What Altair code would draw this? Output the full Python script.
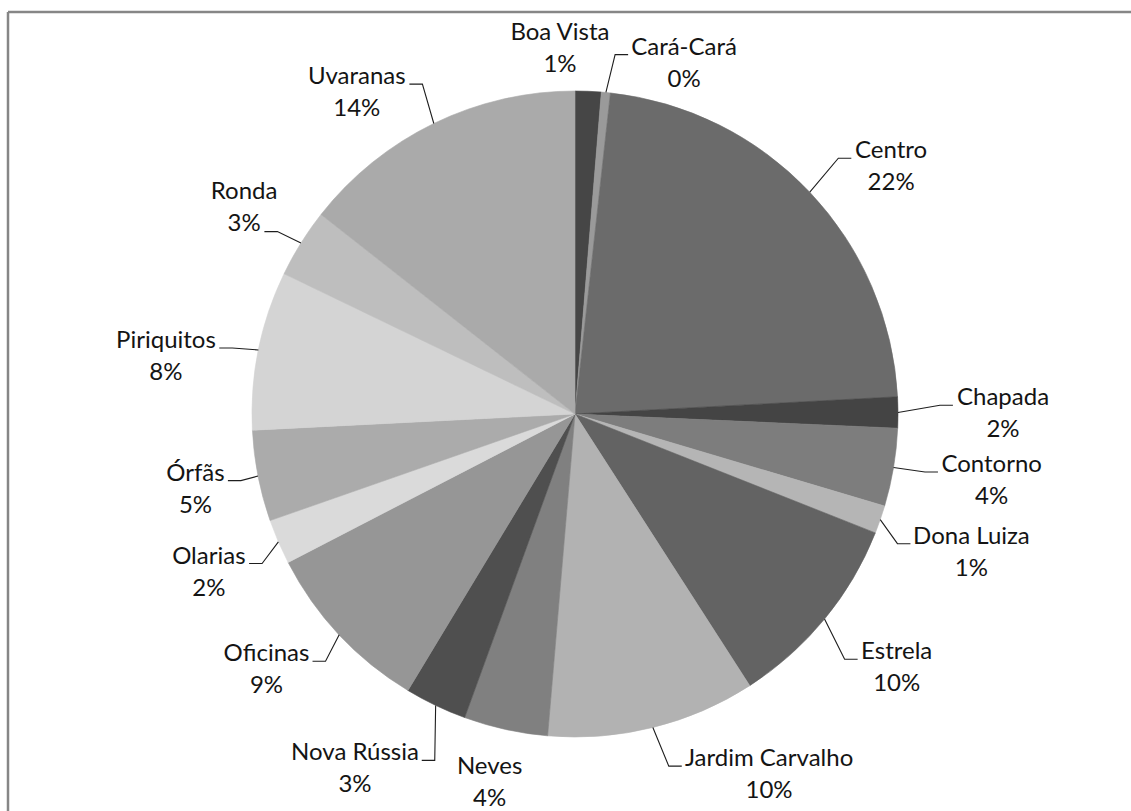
import math
import altair as alt
import pandas as pd

# ---------------- data ----------------
bairros = ["Boa Vista", "Cará-Cará", "Centro", "Chapada", "Contorno", "Dona Luiza",
           "Estrela", "Jardim Carvalho", "Neves", "Nova Rússia", "Oficinas", "Olarias",
           "Órfãs", "Piriquitos", "Ronda", "Uvaranas"]
valores = [1.3, 0.45, 22.4, 1.55, 3.9, 1.4, 9.9, 10.45, 4.2, 3.1, 8.75, 2.25,
           4.55, 7.95, 3.45, 14.4]
cores = ["#464646", "#9a9a9a", "#6b6b6b", "#444444", "#7d7d7d", "#b5b5b5",
         "#636363", "#b2b2b2", "#808080", "#4f4f4f", "#969696", "#dadada",
         "#ababab", "#d4d4d4", "#bebebe", "#aaaaaa"]

# ---------------- label layout (Excel "best fit" placement) ----------------
label_shift = [-4.7, 11.8, 5.4, 0.3, -0.4, 0.2, -1.1, -14.3, 0.6, 6.2, 3.4, -0.1,
               -0.2, -3.5, 0.0, -8.3]          # degrees, relative to slice middle
label_radius = [365, 367, 401, 428, 422, 420, 410, 410, 379, 418, 401, 399,
                387, 413, 390, 388]
leader = [None, "name", "name", "name", "name", "name", "name", "name", None,
          "name", "name", "name", "name", "name", "pct", "name"]

R = 323
FS = 24
LINE = 16
FONT = "Lato"

cw = {"a": .50, "b": .57, "c": .45, "d": .57, "e": .52, "f": .33, "h": .56, "i": .24,
      "l": .24, "m": .85, "n": .56, "o": .56, "p": .57, "q": .57, "r": .36, "s": .42,
      "t": .34, "u": .56, "v": .50, "z": .45, "ã": .50, "á": .50, "ú": .56,
      "B": .62, "C": .64, "V": .66, "J": .37, "N": .74, "O": .76, "P": .58, "R": .60,
      "U": .71, "D": .72, "L": .47, "E": .54, "Ó": .76, " ": .19, "-": .33, "%": .78}


def tw(s):
    return sum(cw.get(c, .58) for c in s) * FS


total = sum(valores)
rows, lines = [], []
cum = 0.0
for i, (b, v) in enumerate(zip(bairros, valores)):
    a0 = cum / total * 360
    cum += v
    a1 = cum / total * 360
    mid = math.radians((a0 + a1) / 2)
    la = math.radians((a0 + a1) / 2 + label_shift[i])
    lx = label_radius[i] * math.sin(la)
    ly = -label_radius[i] * math.cos(la)
    pct = f"{int(v / total * 100 + 0.5)}%"
    rows.append({"bairro": b, "valor": v, "idx": i, "cx": 0, "cy": 0,
                 "lx": lx, "ny": ly - LINE, "py": ly + LINE, "pct": pct})
    if leader[i]:
        ex, ey = R * math.sin(mid), -R * math.cos(mid)
        txt = b if leader[i] == "name" else pct
        ay = (ly - LINE + 7) if leader[i] == "name" else (ly + LINE + 8)
        if lx > ex:
            axp = lx - tw(txt) / 2 - 4
            elx = axp - 13
        else:
            axp = lx + tw(txt) / 2 + 4
            elx = axp + 13
        for k, (px, py) in enumerate([(ex, ey), (elx, ay), (axp, ay)]):
            lines.append({"bairro": b, "k": k, "x": px, "y": py})

df = pd.DataFrame(rows)
dl = pd.DataFrame(lines)

xs = alt.Scale(domain=[-575, 556], nice=False, zero=False)
ys = alt.Scale(domain=[-414, 397], reverse=True, nice=False, zero=False)

frame = pd.DataFrame({"k": [0]})
top = alt.Chart(frame).mark_rule(color="#868686", strokeWidth=2.5).encode(
    x=alt.value(8), x2=alt.value(1131), y=alt.value(12))
left = alt.Chart(frame).mark_rule(color="#868686", strokeWidth=2.5).encode(
    x=alt.value(8), y=alt.value(12), y2=alt.value(811))

pie = alt.Chart(df).mark_arc(radius=R, strokeWidth=0.6).encode(
    theta=alt.Theta("valor:Q", stack=True),
    order=alt.Order("idx:Q", sort="ascending"),
    color=alt.Color("bairro:N", scale=alt.Scale(domain=bairros, range=cores), legend=None),
    stroke=alt.Stroke("bairro:N", scale=alt.Scale(domain=bairros, range=cores), legend=None),
    x=alt.X("cx:Q", scale=xs, axis=None),
    y=alt.Y("cy:Q", scale=ys, axis=None),
)

lead = alt.Chart(dl).mark_line(color="#1e1e1e", strokeWidth=1.1).encode(
    x=alt.X("x:Q", scale=xs, axis=None),
    y=alt.Y("y:Q", scale=ys, axis=None),
    detail="bairro:N",
    order="k:Q",
)

names = alt.Chart(df).mark_text(font=FONT, fontSize=FS, color="#141414",
                                align="center", baseline="middle").encode(
    x=alt.X("lx:Q", scale=xs, axis=None),
    y=alt.Y("ny:Q", scale=ys, axis=None),
    text="bairro:N",
)
pcts = alt.Chart(df).mark_text(font=FONT, fontSize=FS, color="#141414",
                               align="center", baseline="middle").encode(
    x=alt.X("lx:Q", scale=xs, axis=None),
    y=alt.Y("py:Q", scale=ys, axis=None),
    text="pct:N",
)

chart = alt.layer(top, left, pie, lead, names, pcts).properties(
    width=1131, height=811, padding=0,
    autosize=alt.AutoSizeParams(type="none"),
    background="white",
).configure_view(strokeWidth=0)

chart.save("out.html", embed_options={"renderer": "svg", "actions": False})
